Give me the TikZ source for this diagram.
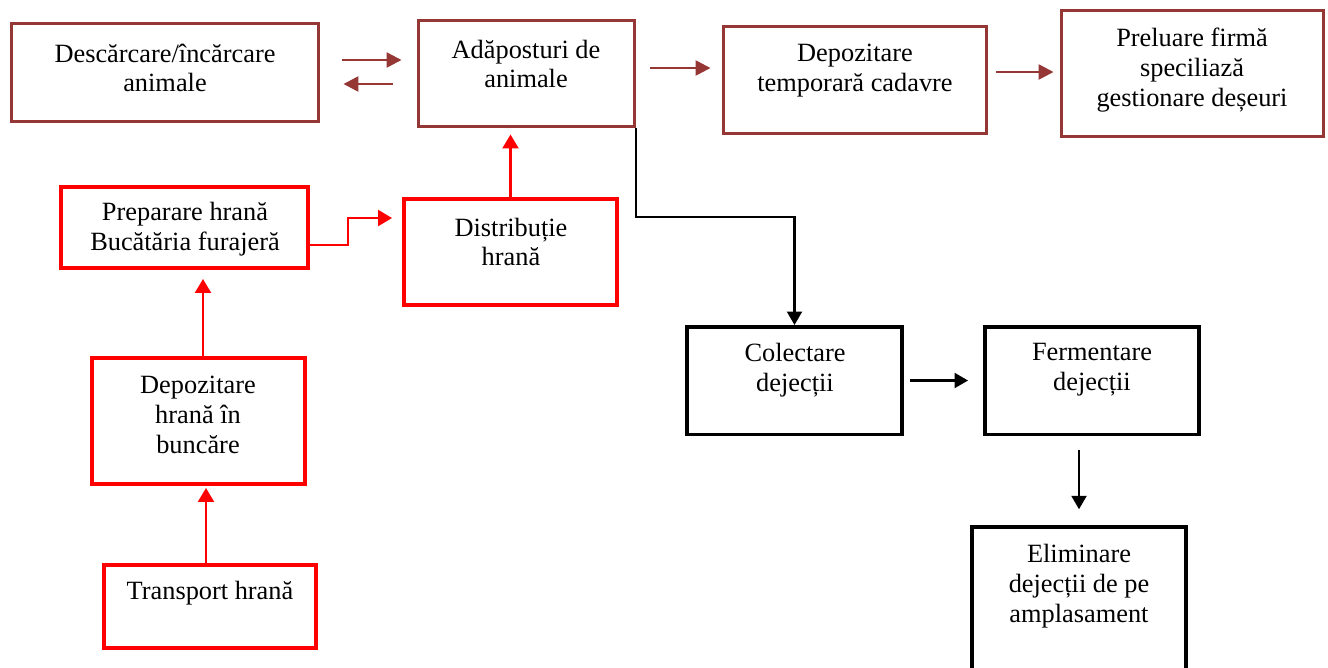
\documentclass[tikz,border=0pt]{standalone}
\usepackage{fontspec}
\setmainfont{Liberation Serif}
\usetikzlibrary{arrows.meta}
\definecolor{brickred}{HTML}{953735}
\definecolor{pureRed}{HTML}{FF0000}

\begin{document}
\begin{tikzpicture}
        [x=0.02cm, y=-0.02cm,
        boxBrown/.style={rectangle, draw=brickred, line width=0.06cm, inner sep=0pt},
        boxRed/.style={rectangle, draw=pureRed, line width=0.08cm, inner sep=0pt},
        boxBlack/.style={rectangle, draw=black, line width=0.07cm, inner sep=0pt},
        txt/.style={align=center, inner sep=0pt, font=\fontsize{15}{17}\selectfont},
        arrBrown/.style={draw=brickred, line width=0.05cm, -{Triangle[length=0.3cm, width=0.3cm]}},
        arrRed/.style={draw=pureRed, line width=0.045cm, -{Triangle[length=0.28cm, width=0.32cm]}},
        arrBlack/.style={draw=black, line width=0.045cm, -{Triangle[length=0.27cm, width=0.3cm]}}]
        \path[use as bounding box, clip] (0,0) rectangle (1328,667);

        % boxes
        \node[boxBrown, minimum width=6.14cm, minimum height=1.96cm] (desc) at (165,72.5) {};
        \node[boxBrown, minimum width=4.32cm, minimum height=2.12cm] (adap) at (526.5,73.5) {};
        \node[boxBrown, minimum width=5.26cm, minimum height=2.14cm] (depo) at (855,80) {};
        \node[boxBrown, minimum width=5.24cm, minimum height=2.52cm] (prel) at (1192.5,73.5) {};
        \node[boxRed, minimum width=4.94cm, minimum height=1.62cm] (prep) at (184.5,227.5) {};
        \node[boxRed, minimum width=4.26cm, minimum height=2.12cm] (distr) at (510.5,252) {};
        \node[boxRed, minimum width=4.26cm, minimum height=2.52cm] (depoH) at (198.5,421) {};
        \node[boxRed, minimum width=4.24cm, minimum height=1.66cm] (transp) at (210,606.5) {};
        \node[boxBlack, minimum width=4.31cm, minimum height=2.15cm] (colect) at (794.5,380.5) {};
        \node[boxBlack, minimum width=4.29cm, minimum height=2.15cm] (ferm) at (1092,380.5) {};
        \node[boxBlack, minimum width=4.29cm, minimum height=4cm] (elim) at (1079,627) {};

        % texts
        \node[txt] (descT) at (165,68) {Descărcare/încărcare\\animale};
        \node[txt] (adapT) at (526,64) {Adăposturi de\\animale};
        \node[txt] (depoT) at (855,71) {Depozitare\\temporară cadavre};
        \node[txt] (prelT) at (1192,70) {Preluare firmă\\speciliază\\gestionare deșeuri};
        \node[txt] (prepT) at (185,229) {Preparare hrană\\Bucătăria furajeră};
        \node[txt] (distrT) at (511,242) {Distribuție\\hrană};
        \node[txt] (depoHT) at (198,415) {Depozitare\\hrană în\\buncăre};
        \node[txt] (transpT) at (210,593) {Transport hrană};
        \node[txt] (colectT) at (795,370) {Colectare\\dejecții};
        \node[txt] (fermT) at (1092,370) {Fermentare\\dejecții};
        \node[txt] (elimT) at (1079,586) {Eliminare\\dejecții de pe\\amplasament};

        % animals and carcasses
        \draw[arrBrown, shorten <=0.45cm, shorten >=0.31cm] ([yshift=0.25cm]desc.east) -- ([yshift=0.25cm]desc.east -| adap.west);
        \draw[arrBrown, shorten <=0.49cm, shorten >=0.47cm] ([yshift=-0.23cm]desc.east -| adap.west) -- ([yshift=-0.23cm]desc.east);
        \draw[arrBrown, shorten <=0.29cm, shorten >=0.23cm] ([yshift=0.11cm]adap.east) -- ([yshift=0.11cm]adap.east -| depo.west);
        \draw[arrBrown, shorten <=0.17cm, shorten >=0.13cm] ([yshift=0.16cm]depo.east) -- ([yshift=0.16cm]depo.east -| prel.west);

        % feed
        \draw[arrRed, shorten >=0.13cm] (distr.north) -- (distr.north |- adap.south);
        \draw[arrRed, shorten >=0.2cm] ([yshift=-0.35cm]prep.east) -- ++(0.76cm,0) |- ([yshift=0.68cm]distr.west);
        \draw[arrRed, shorten >=0.18cm] ([xshift=0.09cm]depoH.north) -- ([xshift=0.09cm]depoH.north |- prep.south);
        \draw[arrRed, shorten >=0.04cm] ([xshift=-0.08cm]transp.north) -- ([xshift=-0.08cm]transp.north |- depoH.south);

        % manure
        \draw[arrBlack] (adap.south east) -- ++(0,-1.78cm) -| (colect.north);
        \draw[arrBlack, shorten <=0.12cm, shorten >=0.3cm] (colect.east) -- (colect.east -| ferm.west);
        \draw[arrBlack, shorten <=0.28cm, shorten >=0.32cm] (elim.north |- ferm.south) -- (elim.north);

    \end{tikzpicture}
\end{document}
